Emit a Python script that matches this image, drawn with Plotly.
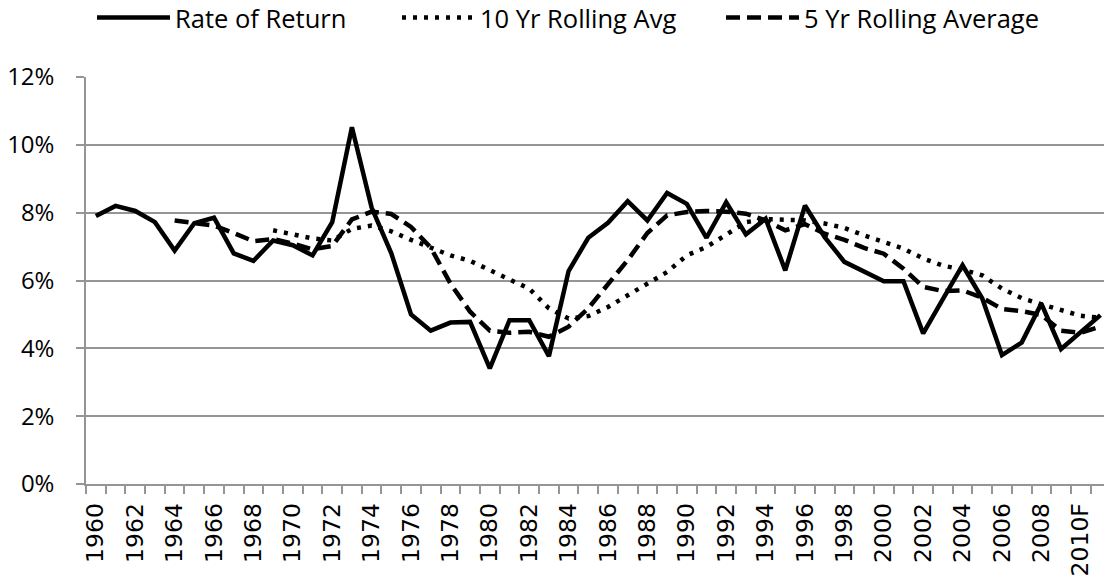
import plotly.graph_objects as go

years = [str(y) for y in range(1960, 2010)] + ["2010F", "2011F"]

rate_of_return = [7.9, 8.2, 8.05, 7.72, 6.88, 7.69, 7.85, 6.8, 6.58, 7.18,
                  7.04, 6.74, 7.72, 10.52, 8.15, 6.8, 5.0, 4.52, 4.76, 4.78,
                  3.41, 4.83, 4.83, 3.77, 6.28, 7.26, 7.7, 8.34, 7.77, 8.58,
                  8.26, 7.26, 8.31, 7.36, 7.82, 6.3, 8.21, 7.28, 6.55, 6.25,
                  5.98, 5.98, 4.44, 5.45, 6.45, 5.47, 3.8, 4.17, 5.32, 3.98,
                  4.48, 4.98]

ten_yr_avg = [None] * 9 + [7.48, 7.35, 7.24, 7.18, 7.52, 7.62, 7.45, 7.2, 6.96, 6.74,
                           6.58, 6.32, 6.03, 5.76, 5.18, 4.88, 4.95, 5.22, 5.57, 5.91,
                           6.25, 6.74, 6.99, 7.35, 7.72, 7.81, 7.79, 7.77, 7.68, 7.55,
                           7.33, 7.14, 6.94, 6.65, 6.44, 6.32, 6.15, 5.76, 5.48, 5.3,
                           5.13, 4.96, 4.9]

five_yr_avg = [None] * 4 + [7.77, 7.68, 7.62, 7.4, 7.16, 7.22, 7.09, 6.92, 7.02, 7.8,
                            8.03, 7.96, 7.58, 6.97, 5.91, 5.08, 4.52, 4.46, 4.49, 4.34,
                            4.64, 5.18, 5.91, 6.6, 7.4, 7.92, 8.02, 8.05, 8.03, 7.97,
                            7.77, 7.48, 7.66, 7.38, 7.2, 6.96, 6.79, 6.35, 5.81, 5.69,
                            5.71, 5.49, 5.16, 5.1, 4.98, 4.52, 4.46, 4.64]

y_ticks = [0, 2, 4, 6, 8, 10, 12]
y_tick_text = [f"{v}%" for v in y_ticks]

xs = list(range(len(years)))
label_pos = list(range(0, len(years), 2))
label_txt = [years[i] for i in label_pos]

GRID = "#959595"
fig = go.Figure()
fig.add_trace(go.Scatter(x=xs, y=rate_of_return, mode="lines", name="Rate of Return",
                         line=dict(color="black", width=4.5), legend="legend"))
fig.add_trace(go.Scatter(x=xs, y=ten_yr_avg, mode="lines", name="10 Yr Rolling Avg",
                         line=dict(color="black", width=4.5, dash="4px,7px"), legend="legend2"))
fig.add_trace(go.Scatter(x=xs, y=five_yr_avg, mode="lines", name="5 Yr Rolling Average",
                         line=dict(color="black", width=4.5, dash="14px,7px"), legend="legend3"))

leg_common = dict(orientation="h", yanchor="middle", y=1.145, xanchor="left",
                  font=dict(family="Open Sans", size=25.5, color="black"),
                  bgcolor="rgba(0,0,0,0)", itemwidth=73, tracegroupgap=0)
fig.update_layout(
    width=1104, height=576,
    margin=dict(l=86, r=0, t=77, b=92, autoexpand=False),
    paper_bgcolor="white", plot_bgcolor="white",
    showlegend=True,
    legend=dict(x=0.0059, **leg_common),
    legend2=dict(x=0.3055, **leg_common),
    legend3=dict(x=0.6238, **leg_common),
    xaxis=dict(range=[-0.5, 51.18], tickvals=label_pos, ticktext=label_txt,
               tickangle=-90, ticks="", showgrid=False, zeroline=False,
               showline=True, linecolor=GRID, linewidth=1.5, automargin=False,
               tickfont=dict(family="DejaVu Sans", size=23.5, color="black"),
               ticklabelstandoff=8,
               minor=dict(tick0=-0.5, dtick=1, ticks="outside", ticklen=8,
                          tickcolor=GRID, tickwidth=1.5, showgrid=False)),
    yaxis=dict(range=[0, 12], tickvals=y_ticks, ticktext=y_tick_text,
               ticks="outside", ticklen=8, tickcolor=GRID, tickwidth=1.5,
               showgrid=True, gridcolor=GRID, gridwidth=1.5, zeroline=False,
               showline=True, linecolor=GRID, linewidth=1.5, automargin=False,
               ticklabelstandoff=17,
               tickfont=dict(family="Open Sans", size=24, color="black")),
)
fig.write_html(
    "out.html",
    config={"displayModeBar": False},
    post_script="document.body.style.margin='0';document.body.style.overflow='hidden';",
)
